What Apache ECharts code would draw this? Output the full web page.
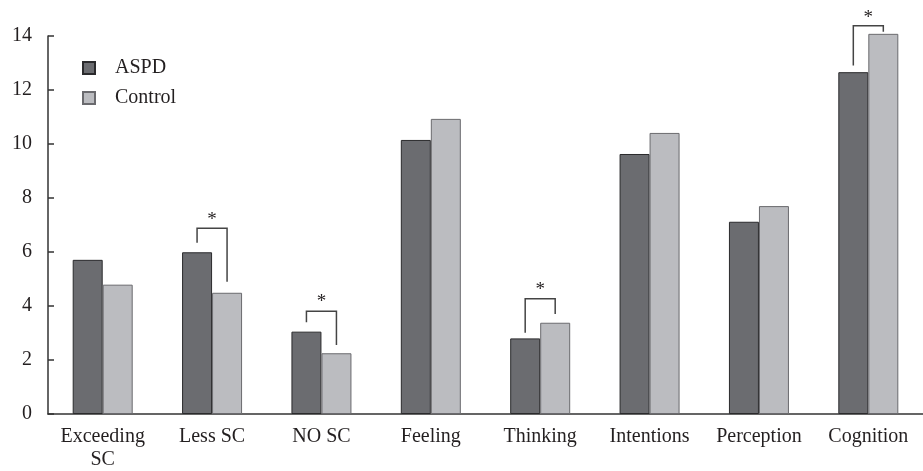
<!DOCTYPE html>
<html>
<head>
<meta charset="utf-8">
<script src="https://cdn.jsdelivr.net/npm/echarts@6/dist/echarts.min.js"></script>
<style>
  html, body { margin: 0; padding: 0; background: #fff; }
  #main { width: 923px; height: 471px; }
</style>
</head>
<body>
<div id="main"></div>
<script>
// chart data
const categories = ['Exceeding\nSC', 'Less SC', 'NO SC', 'Feeling', 'Thinking', 'Intentions', 'Perception', 'Cognition'];
const aspd = [5.71, 5.99, 3.05, 10.15, 2.80, 9.63, 7.12, 12.66];
const control = [4.79, 4.49, 2.25, 10.93, 3.38, 10.41, 7.70, 14.08];
const yTicks = [0, 2, 4, 6, 8, 10, 12, 14];

// significance brackets (values on y scale)
const sigCats = ['Less SC', 'NO SC', 'Thinking', 'Cognition'];
const sigTop = [6.88, 3.81, 4.27, 14.38];
const sigLeft = [6.34, 3.40, 3.01, 12.91];
const sigRight = [4.90, 2.56, 3.70, 14.16];
const sigStar = [7.18, 4.15, 4.60, 14.67];

const FONT = '"Liberation Serif", "DejaVu Serif", serif';
const TEXT = '#231f20';
const BAR_W = 30;

let chart = echarts.init(document.getElementById('main'));

const sigData = sigCats.map((c, i) => [c, sigTop[i], sigLeft[i], sigRight[i], sigStar[i]]);

const renderBracket = (params, api) => {
	const idx = api.value(0);
	const top = api.coord([idx, api.value(1)]);
	const l = api.coord([idx, api.value(2)]);
	const r = api.coord([idx, api.value(3)]);
	const s = api.coord([idx, api.value(4)]);
	const xl = top[0] - BAR_W / 2;
	const xr = top[0] + BAR_W / 2;
	return {
		type: 'group',
		children: [
			{
				type: 'polyline',
				shape: { points: [[xl, l[1]], [xl, top[1]], [xr, top[1]], [xr, r[1]]] },
				style: { stroke: '#444', lineWidth: 1.5, fill: null }
			},
			{
				type: 'text',
				x: top[0],
				y: s[1],
				style: {
					text: '*',
					font: '19px ' + FONT,
					fill: TEXT,
					align: 'center',
					verticalAlign: 'middle'
				}
			}
		]
	};
};

let option = {
	animation: false,
	backgroundColor: '#fff',
	textStyle: { fontFamily: FONT, color: TEXT },
	grid: {
		left: 48,
		right: -1,
		top: 36,
		bottom: 57,
		containLabel: false
	},
	legend: {
		data: ['ASPD', 'Control'],
		orient: 'vertical',
		left: 82,
		top: 58,
		padding: 0,
		itemWidth: 12,
		itemHeight: 12,
		itemGap: 10,
		icon: 'rect',
		textStyle: {
			fontFamily: FONT,
			fontSize: 20,
			color: TEXT,
			padding: [0, 0, 0, 15]
		}
	},
	xAxis: {
		type: 'category',
		data: categories,
		axisLine: { lineStyle: { color: '#333', width: 1.5 } },
		axisTick: { show: false },
		axisLabel: {
			fontFamily: FONT,
			fontSize: 20,
			color: TEXT,
			margin: 11,
			lineHeight: 23,
			interval: 0
		}
	},
	yAxis: {
		type: 'value',
		min: yTicks[0],
		max: yTicks[yTicks.length - 1],
		interval: 2,
		splitLine: { show: false },
		axisLine: { show: true, lineStyle: { color: '#333', width: 1.5 } },
		axisTick: { show: true, inside: true, length: 6, lineStyle: { color: '#333', width: 1.5 } },
		axisLabel: {
			fontFamily: FONT,
			fontSize: 20,
			color: TEXT,
			margin: 16
		}
	},
	series: [
		{
			name: 'ASPD',
			type: 'bar',
			data: aspd,
			barWidth: BAR_W,
			barGap: '0%',
			clip: false,
			itemStyle: { color: '#6b6c70', borderColor: '#2a2a2c', borderWidth: 1 }
		},
		{
			name: 'Control',
			type: 'bar',
			data: control,
			barWidth: BAR_W,
			barGap: '0%',
			clip: false,
			itemStyle: { color: '#bbbcc0', borderColor: '#6a6a6e', borderWidth: 1 }
		},
		{
			name: 'sig',
			type: 'custom',
			data: sigData,
			renderItem: renderBracket,
			clip: false,
			silent: true,
			z: 5
		}
	]
};
chart.setOption(option);
</script>
</body>
</html>
